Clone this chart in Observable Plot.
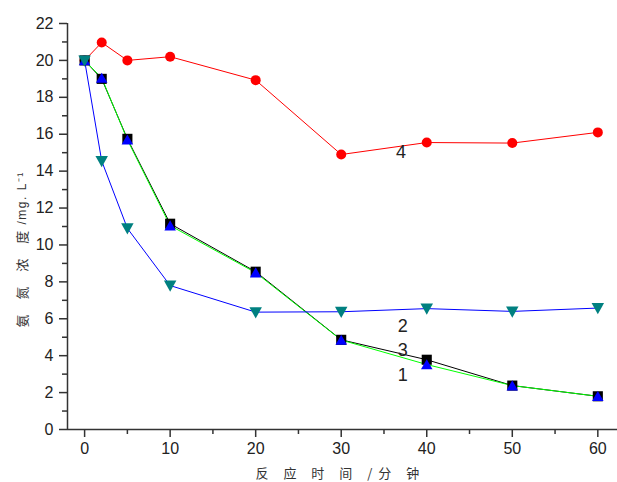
<!DOCTYPE html>
<html><head><meta charset="utf-8">
<script src="https://cdn.jsdelivr.net/npm/d3@7"></script>
<script src="https://cdn.jsdelivr.net/npm/@observablehq/plot@0.6"></script>
<style>body{margin:0;background:#fff}</style>
</head><body><div id="chart"></div>
<script>
const times = [0, 2, 5, 10, 20, 30, 40, 50, 60];
const series1 = [20, 19.05, 15.7, 11.05, 8.5, 4.85, 3.52, 2.38, 1.8];
const series2 = [20, 14.55, 10.9, 7.8, 6.36, 6.38, 6.55, 6.4, 6.58];
const series3 = [20, 19.0, 15.75, 11.15, 8.55, 4.86, 3.78, 2.38, 1.8];
const series4 = [20, 20.97, 20.0, 20.2, 18.93, 14.9, 15.55, 15.52, 16.1];
const labelNames = ["4", "2", "3", "1"];
const labelX = [37.0, 37.2, 37.2, 37.2];
const labelY = [15.0, 5.58, 4.28, 2.93];
const xTicks = [0, 10, 20, 30, 40, 50, 60];
const xMinor = [5, 15, 25, 35, 45, 55];
const yTicks = [0, 2, 4, 6, 8, 10, 12, 14, 16, 18, 20, 22];
const yMinor = [1, 3, 5, 7, 9, 11, 13, 15, 17, 19, 21];
const xDomain = [-2, 62.3];
const yDomain = [0, 22];
const xTitle = "反 应 时 间 /分 钟";
const yTitle1 = "氨 氮 浓 度";
const yTitle2 = "/mg. L⁻¹";

const rows = s => times.map((t, i) => ({t, v: s[i]}));
const d1 = rows(series1), d2 = rows(series2), d3s = rows(series3), d4 = rows(series4);
const labels = labelNames.map((n, i) => ({n, x: labelX[i], y: labelY[i]}));

const triUp = {draw(ctx, size) {const r = Math.sqrt(size / Math.PI);
  ctx.moveTo(0, -1.1 * r); ctx.lineTo(1.2 * r, 1.0 * r); ctx.lineTo(-1.2 * r, 1.0 * r); ctx.closePath();}};
const triDown = {draw(ctx, size) {const r = Math.sqrt(size / Math.PI);
  ctx.moveTo(0, 1.25 * r); ctx.lineTo(1.25 * r, -1.0 * r); ctx.lineTo(-1.25 * r, -1.0 * r); ctx.closePath();}};

const axisColor = "#333";
const cjk = "'Noto Sans CJK SC', sans-serif";

const plot = Plot.plot({
  width: 617, height: 482,
  marginLeft: 67, marginRight: 0, marginTop: 23, marginBottom: 53,
  style: {fontFamily: "'Liberation Sans', Arial, sans-serif", fontSize: "16px", color: "#222", background: "#fff"},
  x: {domain: xDomain},
  y: {domain: yDomain},
  marks: [
    Plot.line(d3s, {x: "t", y: "v", stroke: "#000", strokeWidth: 1}),
    Plot.line(d1, {x: "t", y: "v", stroke: "#00ff00", strokeWidth: 1}),
    Plot.line(d2, {x: "t", y: "v", stroke: "#0000ff", strokeWidth: 1}),
    Plot.line(d4, {x: "t", y: "v", stroke: "#ff0000", strokeWidth: 1}),
    Plot.dot(d4, {x: "t", y: "v", r: 5, fill: "#ff0000", symbol: "circle"}),
    Plot.dot(d3s, {x: "t", y: "v", r: 5.7, fill: "#000", symbol: "square"}),
    Plot.dot(d1, {x: "t", y: "v", r: 4.8, fill: "#0000ff", symbol: triUp}),
    Plot.dot(d2, {x: "t", y: "v", r: 5, fill: "#008080", symbol: triDown}),
    Plot.text(labels, {x: "x", y: "y", text: "n", fontSize: 18, fill: "#222"}),
    Plot.ruleY([yDomain[0]], {stroke: axisColor, strokeWidth: 1.5}),
    Plot.ruleX([xDomain[0]], {stroke: axisColor, strokeWidth: 1.5}),
    Plot.axisX({ticks: xTicks, tickSize: 8, tickPadding: 5, stroke: axisColor, strokeWidth: 1.5, label: null}),
    Plot.axisX({ticks: xMinor, tickSize: 5, tickFormat: () => "", stroke: axisColor, strokeWidth: 1.5, label: null}),
    Plot.axisY({ticks: yTicks, tickSize: 8, tickPadding: 6, stroke: axisColor, strokeWidth: 1.5, label: null}),
    Plot.axisY({ticks: yMinor, tickSize: 5, tickFormat: () => "", stroke: axisColor, strokeWidth: 1.5, label: null}),
    Plot.text([xTitle], {frameAnchor: "bottom-left", dx: 188, dy: 44, textAnchor: "start", lineAnchor: "middle", fontSize: 13, fill: "#333", fontFamily: cjk}),
    Plot.text([yTitle1], {frameAnchor: "bottom-left", dx: -45, dy: -102, rotate: -90, textAnchor: "start", lineAnchor: "middle", fontSize: 13, fill: "#333", fontFamily: cjk}),
    Plot.text([yTitle2], {frameAnchor: "bottom-left", dx: -45, dy: -205, rotate: -90, textAnchor: "start", lineAnchor: "middle", fontSize: 12, fill: "#333", fontFamily: "'Liberation Sans', Arial, sans-serif"})
  ]
});
d3.select(plot).selectAll("text").filter(function() { return this.textContent === xTitle || this.textContent === yTitle1; })
  .style("letter-spacing", "6px");
d3.select(plot).selectAll("text").filter(function() { return this.textContent === yTitle2; })
  .style("letter-spacing", "1.5px");
document.getElementById("chart").appendChild(plot);
</script>
</body></html>
